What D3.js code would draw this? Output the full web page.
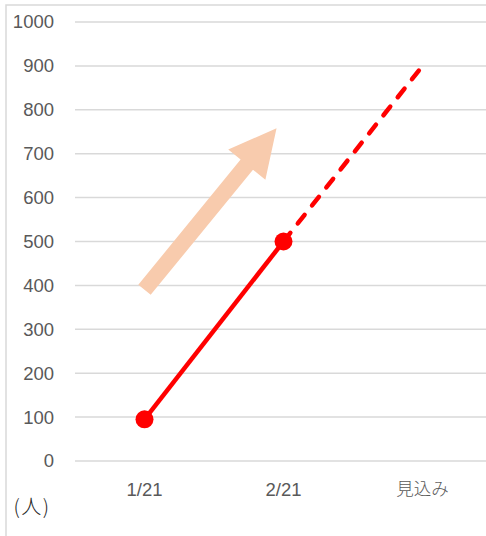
<!DOCTYPE html>
<html>
<head>
<meta charset="utf-8">
<script src="https://cdn.jsdelivr.net/npm/d3@7"></script>
<style>
  html, body { margin: 0; padding: 0; background: #fff; }
  svg { display: block; }
</style>
</head>
<body>
<svg id="chart" width="486" height="536"></svg>
<script>
// Categories and series
const categories = ["1/21", "2/21", "見込み"];
const actualValues = [95, 500, null];      // solid line with markers
const forecastValues = [null, 500, 900];   // dashed projection
const yTicks = [0, 100, 200, 300, 400, 500, 600, 700, 800, 900, 1000];
const unitLabel = "(人)";
// Trend arrow: [category index, value] for tail and tip
const arrowTail = [0, 390];
const arrowTip = [0.95, 758];

const W = 486, H = 536;
const plot = { left: 75, right: 492, top: 22, bottom: 461 };

const svg = d3.select("#chart");

// Chart frame
svg.append("rect")
  .attr("x", 6).attr("y", 5)
  .attr("width", 500).attr("height", 560)
  .attr("fill", "none")
  .attr("stroke", "#d9d9d9")
  .attr("stroke-width", 1.5);

const x = d3.scaleBand().domain(categories).range([plot.left, plot.right]).padding(0);
const xIdx = d3.scaleLinear().domain([0, 1]).range([x(categories[0]) + x.bandwidth() / 2, x(categories[1]) + x.bandwidth() / 2]);
const y = d3.scaleLinear().domain([0, 1000]).range([plot.bottom, plot.top]);

// Gridlines
svg.append("g")
  .selectAll("line")
  .data(yTicks)
  .join("line")
  .attr("x1", plot.left).attr("x2", plot.right)
  .attr("y1", d => y(d)).attr("y2", d => y(d))
  .attr("stroke", "#d9d9d9")
  .attr("stroke-width", 1.5);

// Y axis labels
const yAxis = svg.append("g")
  .attr("transform", `translate(${plot.left},0)`)
  .call(d3.axisLeft(y).tickValues(yTicks).tickFormat(d3.format("d")).tickSize(0).tickPadding(21));
yAxis.select(".domain").remove();
yAxis.selectAll("text")
  .attr("fill", "#595959")
  .style("font-family", "'Liberation Sans', Arial, sans-serif")
  .style("font-size", "18.5px");

// X axis labels
const xAxis = svg.append("g")
  .attr("transform", `translate(0,${plot.bottom})`)
  .call(d3.axisBottom(x).tickSize(0).tickPadding(22));
xAxis.select(".domain").remove();
xAxis.selectAll("text")
  .attr("fill", "#595959")
  .style("font-family", d => d === "見込み" ? "'Noto Sans CJK JP', sans-serif" : "'Liberation Sans', Arial, sans-serif")
  .style("font-weight", d => d === "見込み" ? 300 : 400)
  .style("font-size", d => d === "見込み" ? "17.5px" : "18.5px");

// Unit label
svg.append("text")
  .attr("x", 32).attr("y", 514)
  .attr("text-anchor", "middle")
  .attr("fill", "#262626")
  .attr("letter-spacing", "1.5px")
  .style("font-family", "'Noto Sans CJK JP', sans-serif")
  .style("font-weight", 300)
  .style("font-size", "20px")
  .text(unitLabel);

// Trend arrow (block arrow)
(function drawArrow() {
  const x0 = xIdx(arrowTail[0]), y0 = y(arrowTail[1]);
  const x1 = xIdx(arrowTip[0]), y1 = y(arrowTip[1]);
  const dx = x1 - x0, dy = y1 - y0;
  const len = Math.hypot(dx, dy);
  const ux = dx / len, uy = dy / len;
  const nx = -uy, ny = ux;
  const shaftHalf = 8, headHalf = 24, headLen = 47;
  const bx = x1 - ux * headLen, by = y1 - uy * headLen;
  const pts = [
    [x0 + nx * shaftHalf, y0 + ny * shaftHalf],
    [bx + nx * shaftHalf, by + ny * shaftHalf],
    [bx + nx * headHalf, by + ny * headHalf],
    [x1, y1],
    [bx - nx * headHalf, by - ny * headHalf],
    [bx - nx * shaftHalf, by - ny * shaftHalf],
    [x0 - nx * shaftHalf, y0 - ny * shaftHalf]
  ];
  svg.append("path")
    .attr("d", d3.line()(pts) + "Z")
    .attr("fill", "#f8cbad");
})();

const line = d3.line()
  .defined(d => d.v !== null)
  .x(d => x(d.c) + x.bandwidth() / 2)
  .y(d => y(d.v));

const actual = categories.map((c, i) => ({ c, v: actualValues[i] }));
const forecast = categories.map((c, i) => ({ c, v: forecastValues[i] }));

// Forecast (dashed)
svg.append("path")
  .datum(forecast)
  .attr("d", line)
  .attr("fill", "none")
  .attr("stroke", "#ff0000")
  .attr("stroke-width", 4.5)
  .attr("stroke-linecap", "round")
  .attr("stroke-dasharray", "11,12");

// Actual (solid)
svg.append("path")
  .datum(actual)
  .attr("d", line)
  .attr("fill", "none")
  .attr("stroke", "#ff0000")
  .attr("stroke-width", 4.5);

// Markers
svg.append("g")
  .selectAll("circle")
  .data(actual.filter(d => d.v !== null))
  .join("circle")
  .attr("cx", d => x(d.c) + x.bandwidth() / 2)
  .attr("cy", d => y(d.v))
  .attr("r", 9)
  .attr("fill", "#ff0000");
</script>
</body>
</html>
